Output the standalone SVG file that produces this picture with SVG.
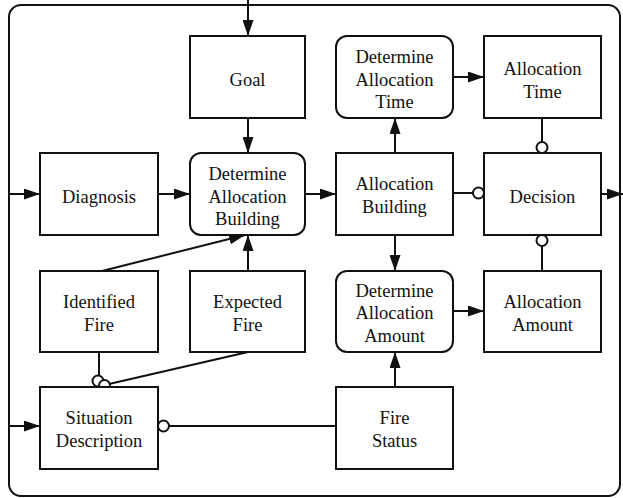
<svg xmlns="http://www.w3.org/2000/svg" width="623" height="498" viewBox="0 0 623 498">
  <style>
    .box { fill: #fff; stroke: #111; stroke-width: 2; }
    .frame { fill: none; stroke: #111; stroke-width: 2; }
    .ln { fill: none; stroke: #111; stroke-width: 2; }
    .arr { fill: none; stroke: #111; stroke-width: 2; marker-end: url(#ah); }
    .dot { fill: #fff; stroke: #111; stroke-width: 2; }
    text { font-family: "Liberation Serif", "Times New Roman", serif; font-size: 18.5px; fill: #111; text-anchor: middle; }
  </style>
  <defs>
    <marker id="ah" viewBox="0 0 16 11" refX="16" refY="5.5" markerWidth="16" markerHeight="11" markerUnits="userSpaceOnUse" orient="auto">
      <path d="M0,0 L16,5.5 L0,11 Z" fill="#111"/>
    </marker>
  </defs>

  <rect class="frame" x="9" y="5" width="611" height="491" rx="12"/>

  <g id="connectors">
    <line class="arr" x1="248" y1="0" x2="248" y2="36"/>
    <line class="arr" x1="248" y1="118" x2="248" y2="153"/>
    <line class="arr" x1="9" y1="194" x2="40" y2="194"/>
    <line class="arr" x1="158" y1="194" x2="190" y2="194"/>
    <line class="arr" x1="305" y1="194" x2="336" y2="194"/>
    <line class="arr" x1="601" y1="194" x2="623" y2="194"/>
    <line class="arr" x1="395" y1="153" x2="395" y2="118"/>
    <line class="arr" x1="453" y1="77" x2="484" y2="77"/>
    <line class="arr" x1="395" y1="235" x2="395" y2="271"/>
    <line class="arr" x1="453" y1="311" x2="484" y2="311"/>
    <line class="arr" x1="395" y1="387" x2="395" y2="352"/>
    <line class="arr" x1="248" y1="271" x2="248" y2="235"/>
    <line class="arr" x1="102" y1="271" x2="245" y2="235"/>
    <line class="arr" x1="9" y1="426" x2="40" y2="426"/>
    <!-- circle-ended links -->
    <line class="ln" x1="542" y1="118" x2="542" y2="142"/>
    <circle class="dot" cx="542" cy="147.5" r="5.5"/>
    <line class="ln" x1="453" y1="193" x2="473" y2="193"/>
    <circle class="dot" cx="478.5" cy="193" r="5.5"/>
    <line class="ln" x1="542" y1="271" x2="542" y2="246"/>
    <circle class="dot" cx="542" cy="240.5" r="5.5"/>
    <line class="ln" x1="99" y1="352" x2="99" y2="376"/>
    <circle class="dot" cx="98" cy="381" r="5.5"/>
    <line class="ln" x1="248" y1="352" x2="109" y2="384"/>
    <circle class="dot" cx="104.5" cy="385.5" r="5.5"/>
    <line class="ln" x1="336" y1="426" x2="169" y2="426"/>
    <circle class="dot" cx="163.5" cy="426" r="5.5"/>
  </g>

  <g id="goal">
    <rect class="box" x="190" y="36" width="115" height="82"/>
    <text x="247.5" y="86">Goal</text>
  </g>
  <g id="diagnosis">
    <rect class="box" x="40" y="153" width="118" height="82"/>
    <text x="99" y="203">Diagnosis</text>
  </g>
  <g id="determine-allocation-building">
    <rect class="box" x="190" y="153" width="115" height="82" rx="11"/>
    <text x="247.5" y="180">Determine</text>
    <text x="247.5" y="203">Allocation</text>
    <text x="247.5" y="225">Building</text>
  </g>
  <g id="determine-allocation-time">
    <rect class="box" x="336" y="36" width="117" height="82" rx="11"/>
    <text x="394.5" y="63">Determine</text>
    <text x="394.5" y="86">Allocation</text>
    <text x="394.5" y="108">Time</text>
  </g>
  <g id="allocation-time">
    <rect class="box" x="484" y="36" width="117" height="82"/>
    <text x="542.5" y="75">Allocation</text>
    <text x="542.5" y="98">Time</text>
  </g>
  <g id="allocation-building">
    <rect class="box" x="336" y="153" width="117" height="82"/>
    <text x="394.5" y="190">Allocation</text>
    <text x="394.5" y="213">Building</text>
  </g>
  <g id="decision">
    <rect class="box" x="484" y="153" width="117" height="82"/>
    <text x="542.5" y="203">Decision</text>
  </g>
  <g id="identified-fire">
    <rect class="box" x="40" y="271" width="118" height="81"/>
    <text x="99" y="308">Identified</text>
    <text x="99" y="331">Fire</text>
  </g>
  <g id="expected-fire">
    <rect class="box" x="190" y="271" width="115" height="81"/>
    <text x="247.5" y="308">Expected</text>
    <text x="247.5" y="331">Fire</text>
  </g>
  <g id="determine-allocation-amount">
    <rect class="box" x="336" y="271" width="117" height="81" rx="11"/>
    <text x="394.5" y="297">Determine</text>
    <text x="394.5" y="319">Allocation</text>
    <text x="394.5" y="342">Amount</text>
  </g>
  <g id="allocation-amount">
    <rect class="box" x="484" y="271" width="117" height="81"/>
    <text x="542.5" y="308">Allocation</text>
    <text x="542.5" y="331">Amount</text>
  </g>
  <g id="situation-description">
    <rect class="box" x="40" y="387" width="118" height="82"/>
    <text x="99" y="424">Situation</text>
    <text x="99" y="447">Description</text>
  </g>
  <g id="fire-status">
    <rect class="box" x="336" y="387" width="117" height="82"/>
    <text x="394.5" y="424">Fire</text>
    <text x="394.5" y="447">Status</text>
  </g>
</svg>
